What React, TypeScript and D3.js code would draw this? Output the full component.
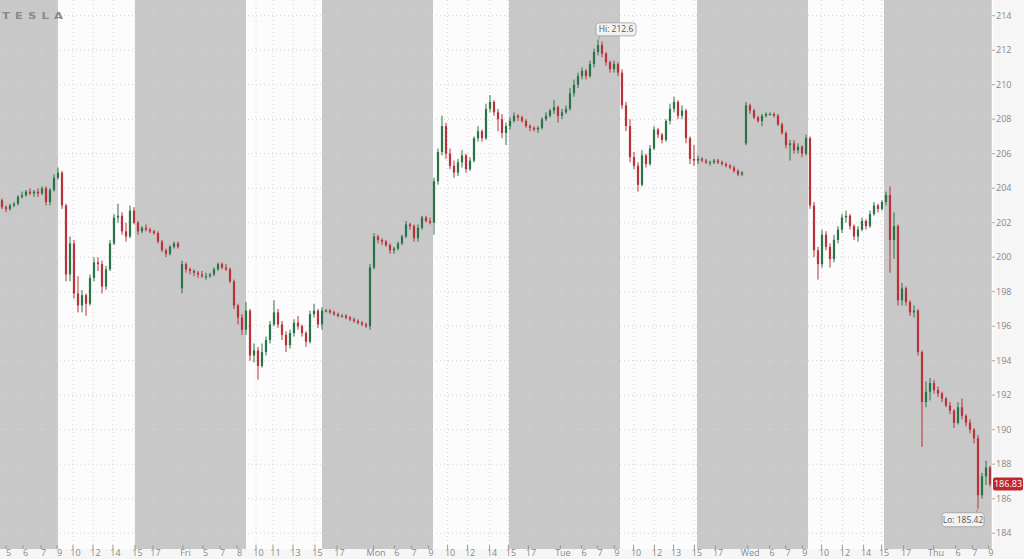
import React from "react";
import * as d3 from "d3";

type C = [number, number, number, number]; // open, high, low, close

const day1: C[] = [
  [203.3,203.4,202.8,202.9],[202.9,203.0,202.6,202.8],[202.8,203.1,202.7,203.0],[203.0,203.2,202.9,203.1],
  [203.1,203.6,203.0,203.5],[203.5,203.8,203.4,203.6],[203.6,203.9,203.5,203.8],[203.8,204.0,203.6,203.7],
  [203.7,203.9,203.5,203.8],[203.8,204.0,203.5,203.7],[203.7,204.1,203.6,204.0],[204.0,204.1,203.0,203.2],
  [203.2,204.0,203.0,203.9],[203.9,204.8,203.8,204.6],[204.6,205.2,204.5,204.9],[204.9,205.0,202.8,203.0],
  [203.0,203.1,198.6,199.0],[199.0,201.2,198.6,200.8],[200.8,201.0,197.6,197.9],[197.9,198.9,196.8,197.2],
  [197.2,198.1,196.8,197.8],[197.8,197.9,196.6,197.3],[197.3,199.0,197.2,198.8],[198.8,200.0,198.6,199.7],
  [199.7,200.0,199.2,199.6],[199.6,199.8,197.9,198.3],[198.3,199.5,198.1,199.3],[199.3,201.0,199.2,200.8],
  [200.8,202.5,200.7,202.3],[202.3,203.1,202.0,202.4],[202.4,202.6,201.3,201.5],[201.5,202.0,200.9,201.2],
  [201.2,203.0,201.1,202.7],[202.7,202.9,201.9,202.0],[202.0,202.1,201.3,201.5],[201.5,201.8,201.4,201.7],
  [201.7,201.9,201.5,201.6],[201.6,201.7,201.4,201.5],[201.5,201.6,201.3,201.4],[201.4,201.5,200.8,200.9],
  [200.9,201.0,200.3,200.4],[200.4,200.5,200.0,200.2],[200.2,200.7,200.1,200.6],[200.6,200.9,200.5,200.8],
  [200.8,200.9,200.5,200.6],
];

const fri: C[] = [
  [198.2,199.8,197.9,199.6],[199.6,199.7,199.1,199.3],[199.3,199.4,199.0,199.2],[199.2,199.3,198.9,199.1],
  [199.1,199.2,198.8,199.0],[199.0,199.2,198.8,198.9],[198.9,199.1,198.7,198.9],[198.9,199.1,198.8,199.0],
  [199.0,199.4,198.9,199.3],[199.3,199.7,199.2,199.6],[199.6,199.7,199.3,199.4],[199.4,199.6,199.2,199.3],
  [199.3,199.4,198.5,198.6],[198.6,198.7,197.0,197.2],[197.2,197.3,196.1,196.5],[196.5,196.7,195.5,195.8],
  [195.8,197.4,195.5,196.9],[196.9,197.0,194.0,194.3],[194.3,195.0,193.9,194.6],[194.6,194.8,192.9,193.7],
  [193.7,195.0,193.6,194.5],[194.5,195.4,194.3,195.2],[195.2,196.3,195.0,196.1],[196.1,197.5,196.0,196.8],
  [196.8,197.0,195.9,196.1],[196.1,196.3,195.2,195.5],[195.5,195.7,194.5,194.9],[194.9,195.8,194.7,195.6],
  [195.6,196.4,195.4,196.2],[196.2,196.6,195.8,196.0],[196.0,196.1,195.4,195.6],[195.6,195.7,194.8,195.1],
  [195.1,196.9,195.0,196.7],[196.7,197.3,196.5,196.9],[196.9,197.0,195.9,196.1],[196.1,197.1,195.8,196.9],
  [196.9,197.0,196.8,196.9],[196.9,197.0,196.7,196.8],[196.8,196.9,196.6,196.7],[196.7,196.8,196.5,196.6],
  [196.6,196.7,196.5,196.6],[196.6,196.7,196.4,196.5],[196.5,196.6,196.3,196.4],[196.4,196.5,196.2,196.3],
  [196.3,196.4,196.1,196.2],[196.2,196.3,196.0,196.1],[196.1,196.2,195.9,196.0],
];

const mon: C[] = [
  [196.0,199.6,195.8,199.4],[199.4,201.4,199.3,201.2],[201.2,201.3,200.8,201.0],[201.0,201.1,200.7,200.9],
  [200.9,201.0,200.6,200.7],[200.7,200.8,200.2,200.4],[200.4,200.6,200.2,200.5],[200.5,200.9,200.4,200.8],
  [200.8,201.3,200.7,201.2],[201.2,202.1,201.1,201.9],[201.9,202.0,201.6,201.8],[201.8,201.9,200.9,201.1],
  [201.1,201.9,200.9,201.7],[201.7,202.4,201.6,202.3],[202.3,202.4,202.0,202.1],[202.1,202.3,201.9,202.0],
  [202.0,204.6,201.3,204.4],[204.4,206.3,204.2,206.1],[206.1,208.2,205.9,207.6],[207.6,207.8,205.7,206.0],
  [206.0,206.3,205.1,205.3],[205.3,205.6,204.6,204.9],[204.9,205.7,204.7,205.5],[205.5,206.2,205.2,205.9],
  [205.9,206.0,204.9,205.1],[205.1,205.8,205.0,205.6],[205.6,207.0,205.5,206.9],[206.9,207.6,206.7,207.3],
  [207.3,207.4,206.7,206.9],[206.9,208.9,206.8,208.6],[208.6,209.4,208.4,209.0],[209.0,209.1,208.2,208.4],
  [208.4,208.6,207.3,208.0],[208.0,208.3,206.9,207.2],[207.2,207.8,206.5,207.6],[207.6,208.1,207.4,207.9],
  [207.9,208.4,207.8,208.2],[208.2,208.3,207.9,208.1],[208.1,208.2,207.8,207.9],[207.9,208.0,207.5,207.6],
  [207.6,207.7,207.3,207.5],[207.5,207.6,207.3,207.4],[207.4,207.6,207.2,207.5],[207.5,208.1,207.4,208.0],
  [208.0,208.4,207.9,208.2],[208.2,208.6,208.1,208.5],[208.5,209.1,208.3,208.7],[208.7,208.8,207.8,208.2],
];

const tue: C[] = [
  [208.2,208.6,208.0,208.4],[208.4,208.8,208.3,208.6],[208.6,209.8,208.5,209.5],[209.5,210.3,209.3,210.0],
  [210.0,210.7,209.8,210.5],[210.5,211.0,210.3,210.8],[210.8,210.9,210.3,210.5],[210.5,211.4,210.4,211.2],
  [211.2,212.1,211.0,211.9],[211.9,212.6,211.7,212.3],[212.3,212.5,211.6,211.8],[211.8,211.9,211.1,211.3],
  [211.3,211.4,210.7,210.9],[210.9,211.4,210.7,211.2],[211.2,211.3,210.5,210.7],[210.7,210.9,208.6,208.8],
  [208.8,209.0,207.3,207.6],[207.6,208.0,205.5,205.8],[205.8,206.1,205.1,205.3],[205.3,205.5,203.8,204.2],
  [204.2,206.2,204.1,205.9],[205.9,206.0,205.2,205.4],[205.4,206.5,205.3,206.3],[206.3,207.6,206.2,207.4],
  [207.4,207.5,206.9,207.1],[207.1,207.2,206.6,206.8],[206.8,208.0,206.7,207.9],[207.9,208.9,207.7,208.6],
  [208.6,209.3,208.4,209.0],[209.0,209.1,208.0,208.2],[208.2,208.8,208.0,208.5],[208.5,208.6,206.6,206.9],
  [206.9,207.0,205.4,205.7],[205.7,206.5,205.3,205.6],[205.6,205.9,205.4,205.7],[205.7,205.8,205.5,205.6],
  [205.6,205.7,205.4,205.5],[205.5,205.6,205.3,205.5],[205.5,205.7,205.4,205.6],[205.6,205.7,205.4,205.5],
  [205.5,205.6,205.3,205.4],[205.4,205.5,205.2,205.3],[205.3,205.4,205.1,205.2],[205.2,205.3,204.9,205.0],
  [205.0,205.1,204.7,204.8],[204.8,205.0,204.7,204.9],
];

const wed: C[] = [
  [206.6,209.0,206.5,208.8],[208.8,208.9,208.3,208.5],[208.5,208.6,208.0,208.1],[208.1,208.2,207.8,207.9],
  [207.9,208.3,207.6,208.2],[208.2,208.4,208.1,208.3],[208.3,208.4,208.2,208.3],[208.3,208.4,208.1,208.2],
  [208.2,208.3,207.6,207.7],[207.7,207.8,207.1,207.2],[207.2,207.3,206.3,206.5],[206.5,206.8,205.6,206.6],
  [206.6,206.8,206.0,206.2],[206.2,206.6,206.0,206.4],[206.4,206.5,205.8,206.0],[206.0,207.1,205.9,206.9],
  [206.9,207.0,202.8,203.0],[203.0,203.2,200.0,200.4],[200.4,200.6,198.7,199.6],[199.6,201.6,199.4,201.3],
  [201.3,201.5,200.4,200.6],[200.6,200.8,199.4,199.9],[199.9,201.3,199.7,201.0],[201.0,201.8,200.8,201.6],
  [201.6,202.5,201.4,202.3],[202.3,202.7,202.0,202.4],[202.4,202.5,201.6,201.8],[201.8,201.9,201.0,201.2],
  [201.2,201.8,200.9,201.6],[201.6,202.3,201.5,202.1],[202.1,202.2,201.6,201.8],[201.8,202.7,201.7,202.5],
  [202.5,203.2,202.4,203.0],[203.0,203.1,202.6,202.8],[202.8,203.3,202.7,203.2],[203.2,203.8,203.0,203.6],
  [203.6,204.1,199.1,201.0],[201.0,202.6,199.9,201.8],[201.8,201.9,197.2,197.5],[197.5,198.5,197.2,198.2],
  [198.2,198.3,197.2,197.4],[197.4,197.5,196.6,196.8],[196.8,197.2,196.5,196.9],[196.9,197.0,194.3,194.5],
  [194.5,194.6,189.0,191.6],[191.6,192.8,191.3,192.2],[192.2,193.0,191.7,192.7],
];

const thu: C[] = [
  [192.7,192.9,192.1,192.3],[192.3,192.5,191.9,192.1],[192.1,192.2,191.6,191.8],[191.8,191.9,191.3,191.4],
  [191.4,191.6,190.9,191.1],[191.1,191.2,190.1,190.4],[190.4,191.6,190.3,191.3],[191.3,191.8,190.6,190.8],
  [190.8,190.9,190.2,190.4],[190.4,190.6,189.8,190.0],[190.0,190.1,189.2,189.5],[189.5,189.7,185.42,186.2],
  [186.2,187.5,186.0,187.3],[187.3,188.2,186.8,187.8],[187.8,187.9,186.7,186.83],
];

const tickLabels = ["5","6","7","9","10","12","14","15","17","Fri","5","7","8","10","11","13","15","17","Mon","6","7","9","10","12","14","15","17","Tue","6","7","9","10","12","13","15","17","Wed","6","7","9","10","12","14","15","17","Thu","6","7","9"];
const tickBars = [1.5,5.75,10.25,14.25,18.25,23.25,28.25,33.75,38.25,45.75,50.75,55,59.25,64,68.25,73.25,78.75,84.25,93.4,98.6,102.9,107.1,111.9,116.9,122.4,127.1,132.1,140.1,145.4,149.4,153.6,158.4,163.6,168.4,173.6,178.9,186.9,192.4,196.4,200.6,205.4,210.6,215.9,220.4,225.9,233.4,238.9,243.1,247.1];
const extendedHours: [number, number][] = [[0,14.5],[33.75,61.5],[80.5,108.25],[127.25,155],[174.25,202],[221,248]];
const priceTicks = [184,186,188,190,192,194,196,198,200,202,204,206,208,210,212,214];

const W = 1024, H = 559;
const PLOT_R = 992, PLOT_B = 549;
const FONT = "'Open Sans', 'Noto Sans', sans-serif";
const UP = "#2a7349", DOWN = "#b8323a";

export default function App() {
  const candles = [...day1, ...fri, ...mon, ...tue, ...wed, ...thu];
  const n = candles.length;
  const x = d3.scaleLinear().domain([0, n]).range([0, PLOT_R]);
  const y = d3.scaleLinear().domain([184, 214]).range([533.2, 15.7]);
  const bw = (x(1) - x(0)) * 0.55;

  const hiIdx = d3.maxIndex(candles, (c) => c[1]);
  const loIdx = d3.minIndex(candles, (c) => c[2]);
  const hi = candles[hiIdx][1];
  const lo = candles[loIdx][2];
  const last = candles[n - 1][3];
  const hiX = x(hiIdx + 0.5), hiY = y(hi);
  const loX = x(loIdx + 0.5), loY = y(lo);
  const hiText = `Hi: ${+hi.toFixed(2)}`;
  const loText = `Lo: ${+lo.toFixed(2)}`;

  return (
    <div style={{ position: "fixed", left: 0, top: 0, width: W, height: H }}>
      <svg width={W} height={H} style={{ display: "block", fontFamily: FONT }}>
        <rect x={0} y={0} width={W} height={H} fill="#f6f6f6" />
        <rect x={0} y={0} width={PLOT_R} height={PLOT_B} fill="#fcfcfc" />
        {extendedHours.map(([a, b], i) => (
          <rect key={i} x={x(a)} y={0} width={x(b) - x(a)} height={PLOT_B} fill="#c8c8c8" />
        ))}
        {priceTicks.map((p) => (
          <line key={p} x1={0} x2={PLOT_R} y1={y(p)} y2={y(p)} stroke="#d3d3d3" strokeDasharray="1,3" />
        ))}
        {tickBars.map((b, i) => (
          <line key={i} x1={x(b)} x2={x(b)} y1={0} y2={PLOT_B - 4} stroke="#d3d3d3" strokeDasharray="1,3" />
        ))}
        {tickBars.map((b, i) => (
          <line key={"t" + i} x1={x(b)} x2={x(b)} y1={PLOT_B - 4} y2={PLOT_B} stroke="#9a9a9a" />
        ))}
        <line x1={PLOT_R + 0.5} x2={PLOT_R + 0.5} y1={0} y2={PLOT_B} stroke="#ffffff" strokeWidth={1.5} />
        <text transform="translate(2,18.5) scale(1.45,1)" fontSize={8} fontWeight="bold" fill="#8a8a8a"
          textLength={42} lengthAdjust="spacing" fontFamily="'DejaVu Sans', sans-serif">TESLA</text>
        {candles.map((c, i) => {
          const [o, h, l, cl] = c;
          const col = cl >= o ? UP : DOWN;
          const cx = x(i + 0.5);
          const top = y(Math.max(o, cl));
          const bh = Math.max(1, y(Math.min(o, cl)) - top);
          return (
            <g key={i}>
              <line x1={cx} x2={cx} y1={y(h)} y2={y(l)} stroke={col} strokeWidth={1} />
              <rect x={cx - bw / 2} y={top} width={bw} height={bh} fill={col} />
            </g>
          );
        })}
        {priceTicks.map((p) => (
          <g key={"y" + p}>
            <line x1={PLOT_R} x2={PLOT_R + 3} y1={y(p)} y2={y(p)} stroke="#aaaaaa" />
            <text x={PLOT_R + 4} y={y(p)} dy="0.35em" fontSize={9} fill="#888888">{p}</text>
          </g>
        ))}
        {tickLabels.map((t, i) => (
          <text key={"x" + i} x={x(tickBars[i]) + 2.5} y={556} textAnchor="middle" fontSize={9} fill="#888888">{t}</text>
        ))}
        <g>
          <line x1={hiX} x2={hiX + 2} y1={hiY} y2={hiY - 4} stroke="#999" />
          <rect x={hiX - 2} y={hiY - 17} width={40} height={13} rx={3} fill="#f2f2f2" stroke="#9d9d9d" strokeWidth={0.8} />
          <text x={hiX + 18} y={hiY - 10.5} dy="0.35em" textAnchor="middle" fontSize={8.5} fill="#555">{hiText}</text>
        </g>
        <g>
          <line x1={loX} x2={loX - 2} y1={loY} y2={loY + 4} stroke="#999" />
          <rect x={loX - 36} y={loY + 4} width={42} height={14} rx={3} fill="#f2f2f2" stroke="#9d9d9d" strokeWidth={0.8} />
          <text x={loX - 15} y={loY + 11} dy="0.35em" textAnchor="middle" fontSize={8.5} fill="#555">{loText}</text>
        </g>
        <g>
          <rect x={PLOT_R + 1} y={y(last) - 7} width={30} height={13} rx={2} fill="#c0272d" />
          <text x={PLOT_R + 16} y={y(last) - 0.5} dy="0.35em" textAnchor="middle" fontSize={9} fill="#ffffff">{last.toFixed(2)}</text>
        </g>
      </svg>
    </div>
  );
}
